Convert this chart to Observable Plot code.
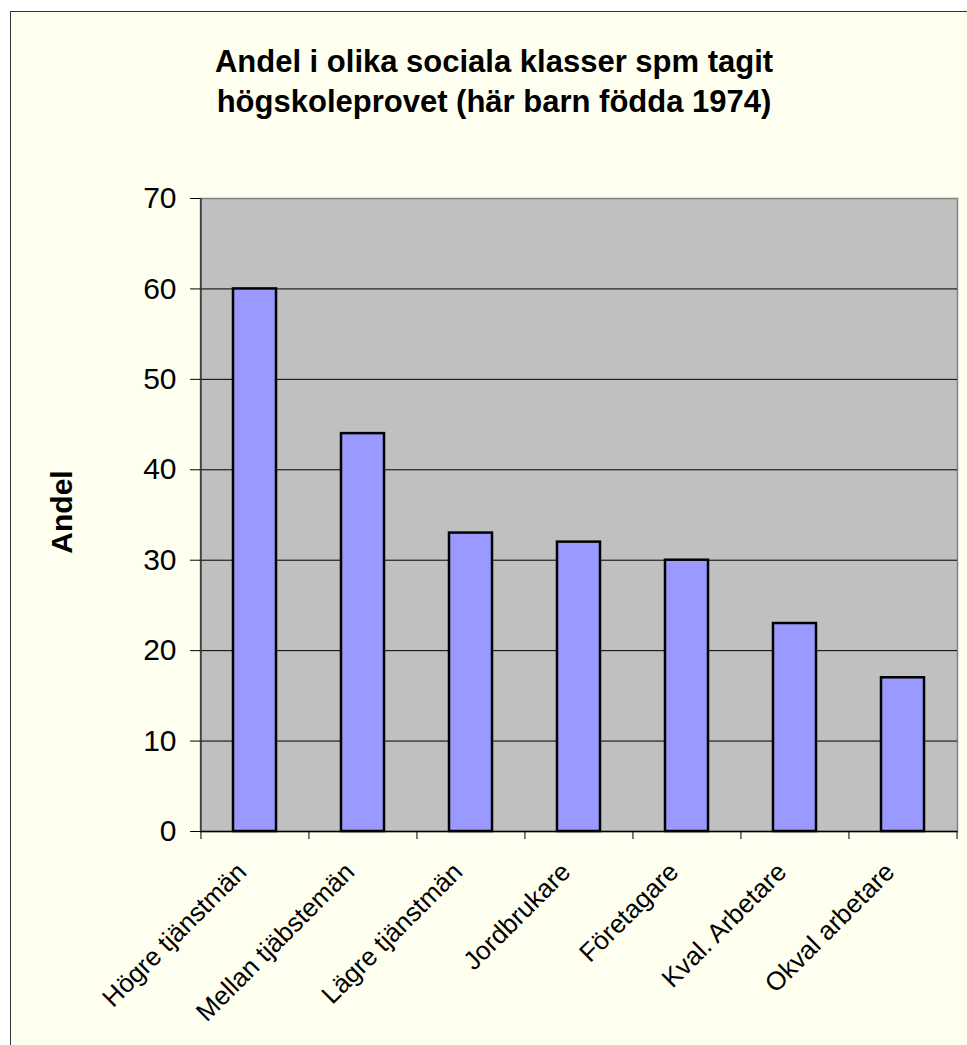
<!DOCTYPE html>
<html>
<head>
<meta charset="utf-8">
<script src="https://cdn.jsdelivr.net/npm/d3@7"></script>
<script src="https://cdn.jsdelivr.net/npm/@observablehq/plot@0.6"></script>
<style>
  html, body { margin: 0; padding: 0; background: #ffffff; }
  #page { position: relative; width: 967px; height: 1045px; overflow: hidden; font-family: "Liberation Sans", Arial, sans-serif; }
  #box { position: absolute; left: 10px; top: 11px; width: 980px; height: 1060px; border: 1.5px solid #333; background: #FFFFF0; }
  #title { position: absolute; left: 0; top: 42px; width: 988px; text-align: center; font-weight: bold; font-size: 31px; line-height: 40px; color: #000; }
  #chart { position: absolute; left: 0; top: 0; }
</style>
</head>
<body>
<div id="page">
  <div id="box"></div>
  <div id="chart"></div>
  <div id="title">Andel i olika sociala klasser spm tagit<br>högskoleprovet (här barn födda 1974)</div>
</div>
<script>
const categories = ["Högre tjänstmän", "Mellan tjäbstemän", "Lägre tjänstmän", "Jordbrukare", "Företagare", "Kval. Arbetare", "Okval arbetare"];
const values = [60, 44, 33, 32, 30, 23, 17];
const yTicks = [0, 10, 20, 30, 40, 50, 60, 70];
const gridValues = [10, 20, 30, 40, 50, 60];
const yLabel = "Andel";

const data = categories.map((c, i) => ({category: c, value: values[i]}));

const W = 967, H = 1045, mL = 200, mR = 10, mT = 198, mB = 214;
const step = (W - mL - mR) / categories.length;
const tickUnits = 8 / ((H - mT - mB) / 70);

const chart = Plot.plot({
  width: W,
  height: H,
  marginLeft: mL,
  marginRight: mR,
  marginTop: mT,
  marginBottom: mB,
  style: {background: "transparent", fontFamily: "'Liberation Sans', Arial, sans-serif", color: "#000", overflow: "visible"},
  x: {type: "band", domain: categories, paddingInner: 0.6, paddingOuter: 0.3, axis: null},
  y: {domain: [0, 70], axis: null},
  marks: [
    Plot.frame({fill: "#C0C0C0", stroke: "#808080", strokeWidth: 1.5}),
    Plot.ruleY(gridValues, {stroke: "#000", strokeWidth: 1}),
    Plot.barY(data, {x: "category", y: "value", fill: "#9999FF", stroke: "#000", strokeWidth: 2.5}),
    Plot.ruleY([0], {stroke: "#000", strokeWidth: 1.5}),
    Plot.ruleX([categories[0]], {x: d => d, y1: 0, y2: 70, dx: -step / 2, stroke: "#333", strokeWidth: 1.5}),
    Plot.ruleX(categories, {x: d => d, y1: 0, y2: -tickUnits, dx: -step / 2, stroke: "#000"}),
    Plot.ruleX([categories[categories.length - 1]], {x: d => d, y1: 0, y2: -tickUnits, dx: step / 2, stroke: "#000"}),
    Plot.axisY(yTicks, {tickSize: 10, tickPadding: 14, fontSize: 30, stroke: "#000", fill: "#000", label: null}),
    Plot.text(categories, {x: d => d, y: 0, text: d => d, rotate: -45, textAnchor: "end", lineAnchor: "bottom", dx: -7, dy: 42, fontSize: 26, fill: "#000"}),
    Plot.text([yLabel], {frameAnchor: "left", text: d => d, rotate: -90, textAnchor: "middle", dx: -138, dy: -3, fontSize: 30, fontWeight: "bold", fill: "#000"})
  ]
});
document.getElementById("chart").appendChild(chart);
</script>
</body>
</html>
